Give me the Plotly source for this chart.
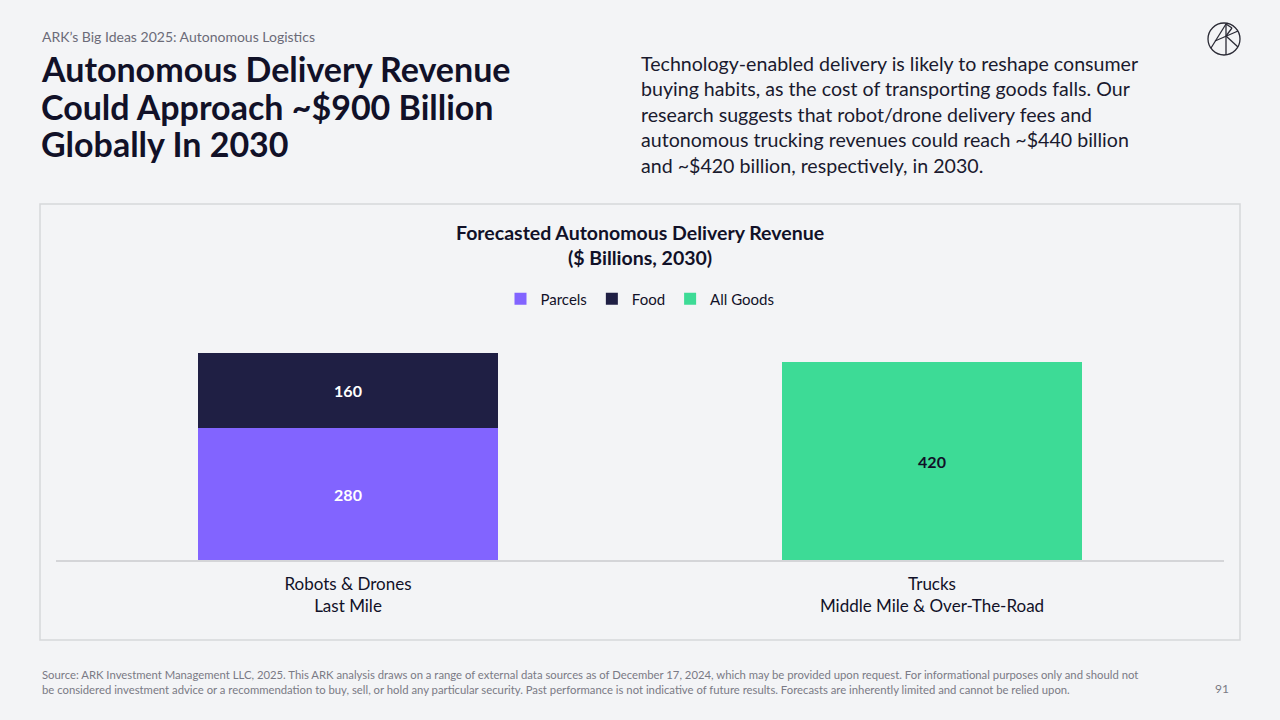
import plotly.graph_objects as go

categories = ["Robots & Drones<br>Last Mile", "Trucks<br>Middle Mile & Over-The-Road"]
parcels = [280, None]
food = [160, None]
all_goods = [None, 420]

BG = "#f3f4f6"
FONT = "Lato"
W, H = 1280, 720

def px(x):
    return x / W

def py(y):
    return 1 - y / H

fig = go.Figure()
fig.add_trace(go.Bar(name="Parcels", x=categories, y=parcels, marker_color="#8264ff",
                     texttemplate="<b>%{y}</b>", textposition="inside", insidetextanchor="middle",
                     textfont=dict(color="white", size=16, family=FONT), width=0.514,
                     marker_line_width=0))
fig.add_trace(go.Bar(name="Food", x=categories, y=food, marker_color="#1f1f44",
                     texttemplate="<b>%{y}</b>", textposition="inside", insidetextanchor="middle",
                     textfont=dict(color="white", size=16, family=FONT), width=0.514,
                     marker_line_width=0))
fig.add_trace(go.Bar(name="All Goods", x=categories, y=all_goods, marker_color="#3ddb96",
                     texttemplate="<b>%{y}</b>", textposition="inside", insidetextanchor="middle",
                     textfont=dict(color="#111128", size=16, family=FONT), width=0.514,
                     marker_line_width=0))

fig.update_layout(
    width=W, height=H, barmode="stack",
    paper_bgcolor=BG, plot_bgcolor=BG,
    margin=dict(l=0, r=0, t=0, b=0),
    font=dict(family=FONT, color="#111128"),
    showlegend=True,
    legend=dict(orientation="h", x=0.5, xanchor="center", y=py(299), yanchor="middle",
                font=dict(size=15, family=FONT, color="#111128"), bgcolor="rgba(0,0,0,0)",
                traceorder="normal", itemwidth=30),
    uniformtext=dict(minsize=10, mode="show"),
    xaxis=dict(domain=[px(56), px(1224)], showgrid=False, showline=True, linecolor="#d4d5d8",
               linewidth=1.5, ticks="", tickfont=dict(size=17, family=FONT, color="#111128"),
               ticklabelstandoff=8, range=[-0.5, 1.5], fixedrange=True),
    yaxis=dict(domain=[py(560), py(330)], range=[0, 488], visible=False, fixedrange=True),
)

# chart box
fig.add_shape(type="rect", xref="paper", yref="paper", x0=px(40), x1=px(1240), y0=py(640), y1=py(204),
              line=dict(color="#d6d7da", width=1.5), fillcolor="rgba(0,0,0,0)", layer="below")

ann = []
ann.append(dict(text="ARK’s Big Ideas 2025: Autonomous Logistics", x=px(40), y=py(36), xanchor="left",
                yanchor="middle", font=dict(size=14, color="#6b6b78", family=FONT)))
title_lines = ["Autonomous Delivery Revenue", "Could Approach ~$900 Billion", "Globally In 2030"]
for i, line in enumerate(title_lines):
    ann.append(dict(text="<b>" + line + "</b>", x=px(39), y=py(68 + 38 * i), xanchor="left",
                    yanchor="middle", align="left", font=dict(size=34, color="#111128", family=FONT)))
ann.append(dict(text="Technology-enabled delivery is likely to reshape consumer<br>"
                     "buying habits, as the cost of transporting goods falls. Our<br>"
                     "research suggests that robot/drone delivery fees and<br>"
                     "autonomous trucking revenues could reach ~$440 billion<br>"
                     "and ~$420 billion, respectively, in 2030.",
                x=px(639), y=py(114), xanchor="left", yanchor="middle", align="left",
                font=dict(size=19.6, color="#1a1a2e", family=FONT)))
ann.append(dict(text="<b>Forecasted Autonomous Delivery Revenue<br>($ Billions, 2030)</b>",
                x=0.5, y=py(245), xanchor="center", yanchor="middle", align="center",
                font=dict(size=19.5, color="#111128", family=FONT)))
ann.append(dict(text="Source: ARK Investment Management LLC, 2025. This ARK analysis draws on a range of external data sources as of December 17, 2024, which may be provided upon request. For informational purposes only and should not<br>"
                     "be considered investment advice or a recommendation to buy, sell, or hold any particular security. Past performance is not indicative of future results. Forecasts are inherently limited and cannot be relied upon.",
                x=px(40), y=py(682), xanchor="left", yanchor="middle", align="left",
                font=dict(size=11.3, color="#7a7a85", family=FONT)))
ann.append(dict(text="91", x=px(1231), y=py(688), xanchor="right", yanchor="middle",
                font=dict(size=12, color="#7a7a85", family=FONT)))
for a in ann:
    a.update(xref="paper", yref="paper", showarrow=False)
fig.update_layout(annotations=ann)

# logo
cx, cy, r = 1224, 39, 16
lc = dict(color="#2a2a35", width=1.3)
fig.add_shape(type="circle", xref="paper", yref="paper", x0=px(cx - r), x1=px(cx + r),
              y0=py(cy + r), y1=py(cy - r), line=lc)
for (x0, y0, x1, y1) in [(1211, 48, 1226, 24), (1226, 24, 1226, 55), (1226, 24, 1232, 28),
                         (1232, 28, 1226, 36), (1226, 36, 1238, 47), (1215, 41, 1238, 31)]:
    fig.add_shape(type="line", xref="paper", yref="paper", x0=px(x0), x1=px(x1),
                  y0=py(y0), y1=py(y1), line=lc)

fig.write_html("out.html", config={"displayModeBar": False},
               post_script="document.body.style.margin='0';document.body.style.background='#f3f4f6';")
